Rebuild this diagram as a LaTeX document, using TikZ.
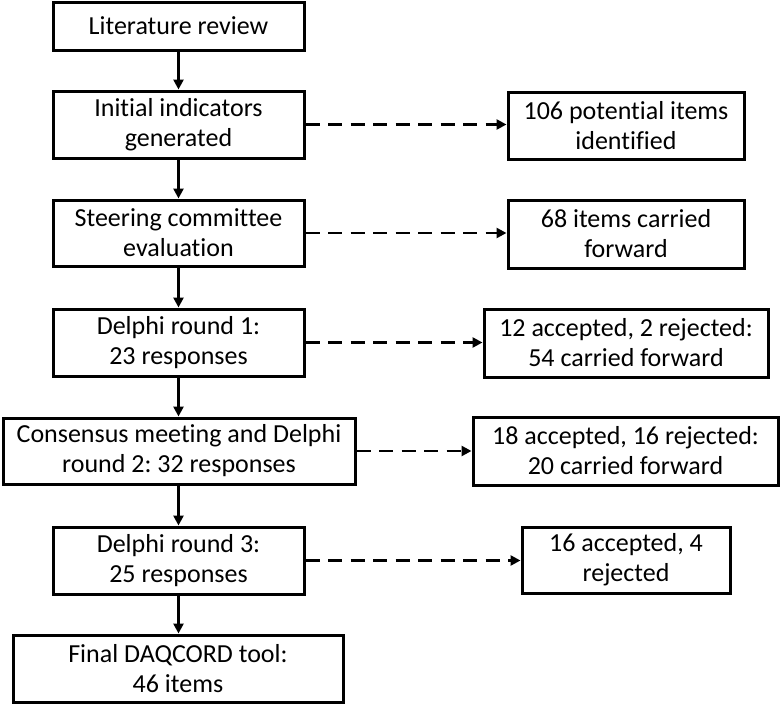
\documentclass[tikz,border=0pt]{standalone}
\usepackage{fontspec}
\setmainfont{Carlito}[Ligatures=NoCommon]
\usetikzlibrary{arrows.meta}
\begin{document}
\frenchspacing
\begin{tikzpicture}[x=1pt,y=-1pt,
  box/.style={draw, line width=3pt, align=center, inner sep=0pt,
    font=\fontsize{26}{30}\selectfont},
  flow/.style={line width=2.8pt, -{Triangle[length=10pt,width=10pt]}},
  side/.style={line width=2.8pt, dash pattern=on 14pt off 8.5pt, -{Triangle[length=10pt,width=10pt]}}]
\useasboundingbox (0,0) rectangle (780,704);
\node[box, minimum width=251pt, minimum height=48pt] (l1) at (178.5,26) {Literature review};
\node[box, minimum width=251pt, minimum height=67pt] (l2) at (178.5,124.5) {Initial indicators\\generated};
\node[box, minimum width=251pt, minimum height=66pt] (l3) at (178.5,233) {Steering committee\\evaluation};
\node[box, minimum width=251pt, minimum height=67pt] (l4) at (178.5,342.5) {Delphi round 1:\\23 responses};
\node[box, minimum width=352pt, minimum height=66pt] (l5) at (179,451) {Consensus meeting and Delphi\\round 2: 32 responses};
\node[box, minimum width=251pt, minimum height=67pt] (l6) at (178.5,560.5) {Delphi round 3:\\25 responses};
\node[box, minimum width=330pt, minimum height=67pt] (l7) at (178,668.5) {Final DAQCORD tool:\\46 items};
\node[box, minimum width=236pt, minimum height=67pt] (r1) at (626,125.5) {106 potential items\\identified};
\node[box, minimum width=236pt, minimum height=68pt] (r2) at (626,234) {68 items carried\\forward};
\node[box, minimum width=284pt, minimum height=68pt] (r3) at (626,343) {12 accepted, 2 rejected:\\54 carried forward};
\node[box, minimum width=305pt, minimum height=68pt] (r4) at (625.5,451) {18 accepted, 16 rejected:\\20 carried forward};
\node[box, minimum width=208pt, minimum height=66pt] (r5) at (626,560) {16 accepted, 4\\rejected};
\draw[flow] (l1) -- (l2);
\draw[flow] (l2) -- (l3);
\draw[flow] (l3) -- (l4);
\draw[flow] (l4) -- (l4 |- l5.north);
\draw[flow] (l4 |- l5.south) -- (l6);
\draw[flow] (l6) -- (l6 |- l7.north);
\draw[side] (l2.east) -- (r1.west |- l2.east);
\draw[side] (l3.east) -- (r2.west |- l3.east);
\draw[side] (l4.east) -- (r3.west |- l4.east);
\draw[side] (l5.east) -- (r4.west |- l5.east);
\draw[side] (l6.east) -- (r5.west |- l6.east);
\end{tikzpicture}
\end{document}
